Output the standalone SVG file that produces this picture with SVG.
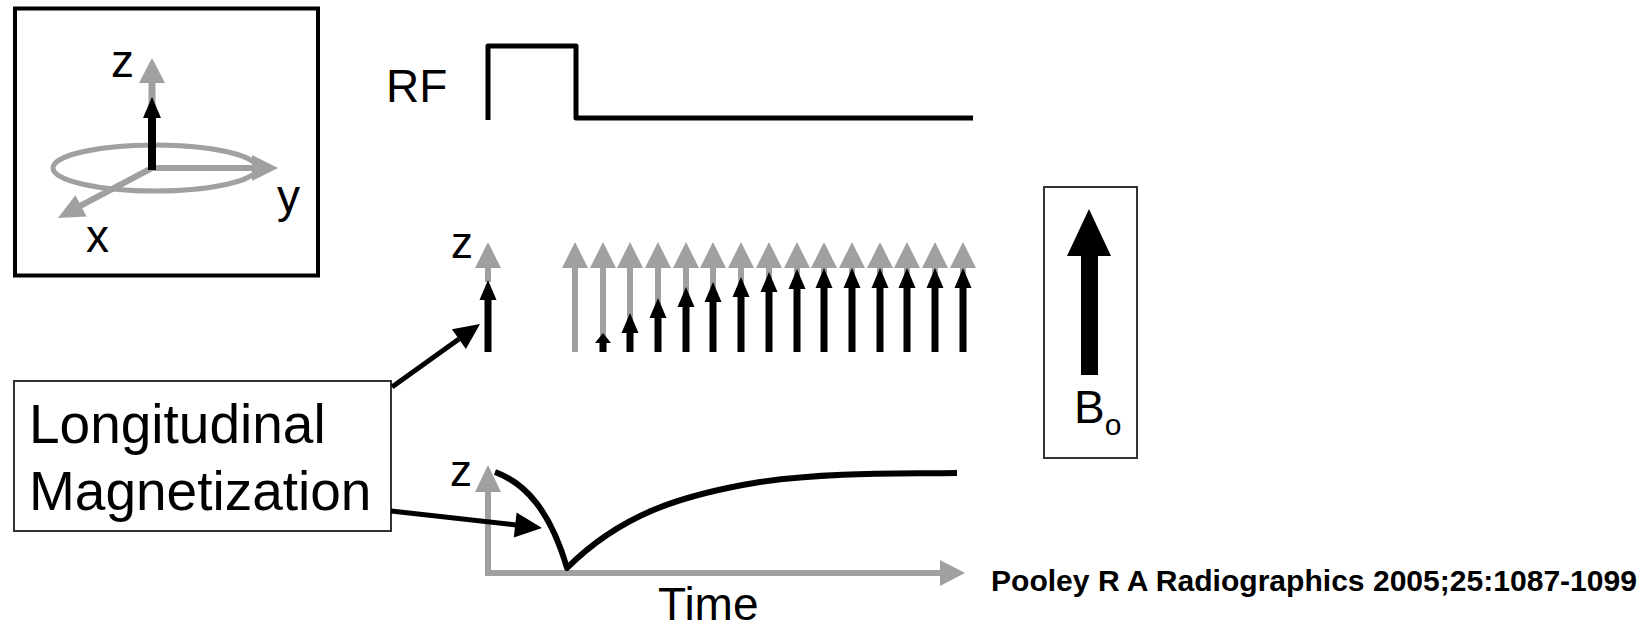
<svg xmlns="http://www.w3.org/2000/svg" xmlns:xlink="http://www.w3.org/1999/xlink" width="1648" height="630" viewBox="0 0 1648 630">
<style>
text{font-family:"Liberation Sans",Arial,sans-serif;fill:#000}
.lbl{font-size:46px}
.zl{font-size:44px}
.big{font-size:55px}
.cite{font-size:30px;font-weight:bold}
.g{stroke:#a0a0a0;fill:none}
.gf{fill:#a0a0a0}
.k{stroke:#000;fill:none}
.kf{fill:#000}
.frame{fill:#fff;stroke:#333;stroke-width:2}
</style>
<defs>
<g id="ga">
<line x1="0" y1="352" x2="0" y2="266" stroke="#a0a0a0" stroke-width="6"/>
<polygon points="0,242 -13,268 13,268" fill="#a0a0a0"/>
</g>
<polygon id="bh" points="0,0 -8.5,20 8.5,20" fill="#000"/>
</defs>
<rect width="1648" height="630" fill="#fff"/>

<g id="axes-box">
<rect x="15" y="8.5" width="303" height="267" fill="none" stroke="#000" stroke-width="4"/>
<ellipse cx="155" cy="168" rx="102" ry="23" class="g" stroke-width="5"/>
<line x1="152" y1="168" x2="152" y2="80" class="g" stroke-width="7"/>
<polygon points="152,58 139,83 165,83" class="gf"/>
<line x1="152" y1="168" x2="255" y2="168" class="g" stroke-width="6"/>
<polygon points="278,168 252,155 252,181" class="gf"/>
<line x1="152" y1="168" x2="80" y2="206" class="g" stroke-width="6"/>
<polygon points="58,218 86.6,216.4 75.4,195.2" class="gf"/>
<line x1="152" y1="170" x2="152" y2="115" class="k" stroke-width="8"/>
<polygon points="152,97 143,118 161,118" class="kf"/>
<text class="lbl" x="111" y="77">z</text>
<text class="lbl" x="277" y="212">y</text>
<text class="lbl" x="86" y="252">x</text>
</g>

<g id="rf">
<text class="lbl" x="386" y="102">RF</text>
<path d="M488,120 V46 H576 V118 H973" class="k" stroke-width="5" stroke-linejoin="round"/>
</g>

<g id="z-arrows">
<text class="zl" x="451" y="258">z</text>
<line x1="488" y1="282" x2="488" y2="266" stroke="#a0a0a0" stroke-width="6"/>
<polygon points="488,242 475,268 501,268" class="gf"/>
<line x1="488" y1="352" x2="488" y2="298" class="k" stroke-width="7"/>
<use xlink:href="#bh" x="488" y="280"/>
</g>

<g id="recovery-arrows">
<use xlink:href="#ga" x="575"/>
<use xlink:href="#ga" x="603"/>
<use xlink:href="#ga" x="630"/>
<use xlink:href="#ga" x="658"/>
<use xlink:href="#ga" x="686"/>
<use xlink:href="#ga" x="713"/>
<use xlink:href="#ga" x="741"/>
<use xlink:href="#ga" x="769"/>
<use xlink:href="#ga" x="797"/>
<use xlink:href="#ga" x="824"/>
<use xlink:href="#ga" x="852"/>
<use xlink:href="#ga" x="880"/>
<use xlink:href="#ga" x="907"/>
<use xlink:href="#ga" x="935"/>
<use xlink:href="#ga" x="963"/>
<g class="k" stroke-width="7">
<line x1="603" y1="352" x2="603" y2="341"/>
<line x1="630" y1="352" x2="630" y2="330"/>
<line x1="658" y1="352" x2="658" y2="316"/>
<line x1="686" y1="352" x2="686" y2="305"/>
<line x1="713" y1="352" x2="713" y2="300"/>
<line x1="741" y1="352" x2="741" y2="295"/>
<line x1="769" y1="352" x2="769" y2="290"/>
<line x1="797" y1="352" x2="797" y2="287"/>
<line x1="824" y1="352" x2="824" y2="286"/>
<line x1="852" y1="352" x2="852" y2="286"/>
<line x1="880" y1="352" x2="880" y2="286"/>
<line x1="907" y1="352" x2="907" y2="286"/>
<line x1="935" y1="352" x2="935" y2="286"/>
<line x1="963" y1="352" x2="963" y2="286"/>
</g>
<polygon points="603,333 595,343 611,343" class="kf"/>
<use xlink:href="#bh" x="630" y="313"/>
<use xlink:href="#bh" x="658" y="298"/>
<use xlink:href="#bh" x="686" y="287"/>
<use xlink:href="#bh" x="713" y="282"/>
<use xlink:href="#bh" x="741" y="277"/>
<use xlink:href="#bh" x="769" y="272"/>
<use xlink:href="#bh" x="797" y="269"/>
<use xlink:href="#bh" x="824" y="268"/>
<use xlink:href="#bh" x="852" y="268"/>
<use xlink:href="#bh" x="880" y="268"/>
<use xlink:href="#bh" x="907" y="268"/>
<use xlink:href="#bh" x="935" y="268"/>
<use xlink:href="#bh" x="963" y="268"/>
</g>

<g id="b0">
<rect x="1044" y="187" width="93" height="271" class="frame"/>
<polygon points="1089,209 1067,256 1111,256" class="kf"/>
<rect x="1081" y="254" width="17" height="121" class="kf"/>
<text class="lbl" x="1074" y="423">B<tspan font-size="30" dy="12">o</tspan></text>
</g>

<g id="mz-plot">
<line x1="488" y1="576" x2="488" y2="490" class="g" stroke-width="6"/>
<polygon points="488,465 475,492 501,492" class="gf"/>
<line x1="485" y1="573" x2="942" y2="573" class="g" stroke-width="6"/>
<polygon points="965,573 940,560 940,586" class="gf"/>
<path d="M495,472 C525,483 550,510 567,568 C620,515 680,495 760,482 C830,472 900,474 957,473" class="k" stroke-width="6" stroke-linejoin="round"/>
<text class="zl" x="450" y="486">z</text>
<text class="lbl" x="658" y="620">Time</text>
</g>

<g id="label-box">
<rect x="14" y="381" width="377" height="150" class="frame"/>
<text class="big" x="29" y="443">Longitudinal</text>
<text class="big" x="29" y="510">Magnetization</text>
</g>

<g id="connectors">
<line x1="392" y1="387" x2="459" y2="339" class="k" stroke-width="5"/>
<polygon points="480,324 465.9,348.9 451.9,329.3" class="kf"/>
<line x1="391" y1="511" x2="516" y2="525" class="k" stroke-width="5"/>
<polygon points="542,528 513.8,537.4 516.6,512.6" class="kf"/>
</g>

<text class="cite" x="991" y="591" textLength="646" lengthAdjust="spacingAndGlyphs">Pooley R A Radiographics 2005;25:1087-1099</text>
</svg>
